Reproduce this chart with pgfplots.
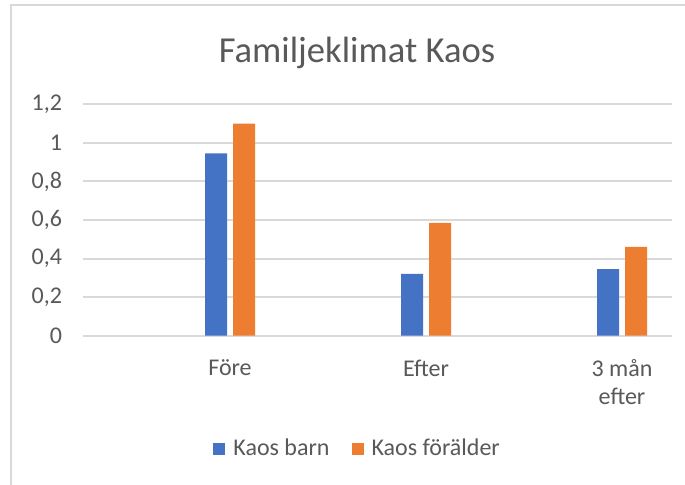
\documentclass[border=0pt]{standalone}
\usepackage{fontspec}
\setmainfont{Carlito}
\usepackage{pgfplots}
\pgfplotsset{compat=1.18}
\definecolor{cblue}{HTML}{4472C4}
\definecolor{corange}{HTML}{ED7D31}
\definecolor{cgrid}{HTML}{D9D9D9}
\definecolor{ctext}{HTML}{595959}
\begin{document}
\begin{tikzpicture}
\useasboundingbox (0,0) rectangle (342.5pt,242.5pt);
\fill[white] (0,0) rectangle (342.5pt,242.5pt);
\draw[cgrid, line width=0.9pt] (5.5pt,0) -- (5.5pt,240pt) -- (342.5pt,240pt);
\node[anchor=base, text=ctext, font=\fontsize{18.3}{22}\selectfont] at (178.5pt,211pt) {Familjeklimat Kaos};
\begin{axis}[
  at={(41.5pt,74.65pt)}, anchor=south west,
  scale only axis, width=294.5pt, height=115.7pt,
  ybar=3pt, bar width=11pt,
  xmin=-0.75, xmax=2.255,
  ymin=0, ymax=1.2,
  ytick={0,0.2,...,1.21},
  xtick={0,1,2},
  xticklabels={Före,Efter,{3 mån\\efter}},
  axis line style={draw=none},
  major tick length=0pt,
  ymajorgrids, major grid style={cgrid, line width=1pt},
  tick label style={text=ctext, font=\fontsize{12}{14}\selectfont},
  /pgf/number format/assume math mode=true,
  yticklabel style={/pgf/number format/.cd, use comma, fixed, precision=1, /tikz/.cd, xshift=-7pt},
  xticklabel style={align=center, yshift=-8.5pt},
  legend style={at={(0.468,-0.49)}, anchor=center, draw=none, fill=none,
    font=\fontsize{12}{14}\selectfont, text=ctext, legend columns=2,
    /tikz/every odd column/.append style={column sep=2pt},
    /tikz/every even column/.append style={column sep=9pt}},
  legend image code/.code={\fill[#1] (0pt,-3pt) rectangle (6pt,3pt);},
]
\addplot[fill=cblue, draw=none] coordinates {(0,0.945) (1,0.32) (2,0.345)};
\addplot[fill=corange, draw=none] coordinates {(0,1.10) (1,0.585) (2,0.46)};
\legend{Kaos barn, Kaos förälder}
\end{axis}
\end{tikzpicture}
\end{document}
